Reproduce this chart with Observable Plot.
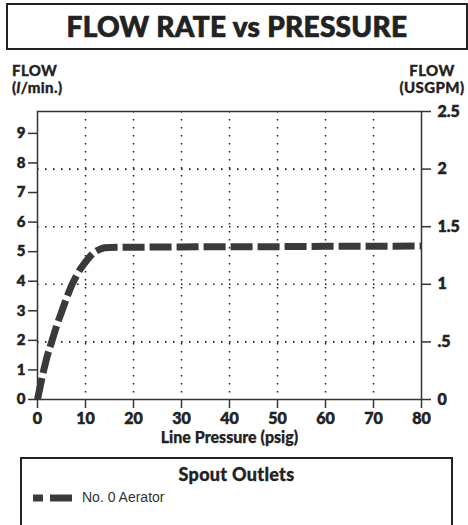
<!DOCTYPE html>
<html>
<head>
<meta charset="utf-8">
<script src="https://cdn.jsdelivr.net/npm/d3@7"></script>
<script src="https://cdn.jsdelivr.net/npm/@observablehq/plot@0.6"></script>
<style>
  html, body { margin: 0; padding: 0; background: #fff; }
  body { width: 468px; height: 525px; position: relative; overflow: hidden; font-family: "Lato Black", Lato, "DejaVu Sans", sans-serif; color: #222; }
  .abs { position: absolute; white-space: nowrap; }
  .heavy { font-weight: 900; -webkit-text-stroke: 0.3px #222; }
  #titlebox { left: 6px; top: 3px; width: 458px; height: 43px; border: 2px solid #222; }
  #title { left: 6px; top: 3px; width: 462px; height: 47px; line-height: 47px; text-align: center; font-size: 28px; letter-spacing: 0.3px; -webkit-text-stroke: 0.7px #222; }
  .hdr { font-size: 15px; line-height: 17px; letter-spacing: 0.4px; }
  #plot { left: 0; top: 0; }
  #legend { left: 20px; top: 457px; width: 429px; height: 80px; border: 2px solid #222; }
  #legtitle { left: 20px; top: 463px; width: 433px; text-align: center; font-size: 18px; letter-spacing: 0.3px; }
  #legtext { left: 82px; top: 489px; font-family: "Liberation Sans", Arial, sans-serif; font-size: 14px; color: #333; }
</style>
</head>
<body>
<div id="plot" class="abs"></div>
<div id="titlebox" class="abs"></div>
<div id="title" class="abs heavy">FLOW RATE vs PRESSURE</div>
<div class="abs hdr heavy" style="left:12px; top:62px;">FLOW</div>
<div class="abs hdr heavy" style="left:12px; top:79px;">(<i>l</i>/min.)</div>
<div class="abs hdr heavy" style="left:396px; width:72px; text-align:center; top:62px;">FLOW</div>
<div class="abs hdr heavy" style="left:396px; width:72px; text-align:center; top:79px;">(USGPM)</div>
<div id="legend" class="abs"></div>
<div id="legtitle" class="abs heavy">Spout Outlets</div>
<svg class="abs" style="left:0;top:0" width="468" height="525" id="legsvg"></svg>
<div id="legtext" class="abs">No. 0 Aerator</div>
<script>
// ---- data ----
const pressure = [0, 1, 2, 3, 4, 5, 6, 7, 8, 9, 10, 11, 12, 13, 14, 15, 20, 30, 40, 50, 60, 70, 80];
const flowLpm  = [0, 0.78, 1.45, 1.97, 2.5, 2.95, 3.4, 3.82, 4.15, 4.43, 4.65, 4.85, 5.0, 5.08, 5.13, 5.14, 5.15, 5.16, 5.17, 5.17, 5.18, 5.18, 5.19];
const xTicks = [0, 10, 20, 30, 40, 50, 60, 70, 80];
const lpmTicks = [0, 1, 2, 3, 4, 5, 6, 7, 8, 9];
const usgpmTicks = [0, 0.5, 1, 1.5, 2, 2.5];
const usgpmLabels = ["0", ".5", "1", "1.5", "2", "2.5"];
const seriesName = "No. 0 Aerator";

const yMax = 9.74;               // left axis top (l/min)
const k = yMax / 2.5;            // l/min per right-axis unit as drawn
const data = pressure.map((p, i) => ({p, f: flowLpm[i]}));

const lineColor = "#3a3a3a";
const dash = "22,5";
const ff = "'Lato Black', Lato, sans-serif";

const chart = Plot.plot({
  width: 468,
  height: 460,
  marginLeft: 37,
  marginRight: 47,
  marginTop: 111,
  marginBottom: 61,
  style: {fontFamily: ff, color: "#222", background: "transparent", overflow: "visible"},
  x: {domain: [0, 80]},
  y: {domain: [0, yMax]},
  marks: [
    Plot.ruleX(xTicks.filter(d => d > 0 && d < 80), {stroke: "#222", strokeWidth: 1.6, strokeDasharray: "1.6,6.4"}),
    Plot.ruleY(usgpmTicks.filter(d => d > 0 && d < 2.5).map(d => d * k), {stroke: "#222", strokeWidth: 1.6, strokeDasharray: "1.6,6.4"}),
    Plot.frame({stroke: "#333", strokeWidth: 1.5}),
    Plot.axisY(lpmTicks, {anchor: "left", tickSize: 9, tickPadding: 3, fontSize: 15, fontWeight: 900, stroke: "#333", strokeWidth: 1.5, label: null, tickFormat: d => String(d)}),
    Plot.axisY(usgpmTicks.map(d => d * k), {anchor: "right", tickSize: 9, tickPadding: 7, fontSize: 16, fontWeight: 900, stroke: "#333", strokeWidth: 1.5, label: null,
      tickFormat: d => usgpmLabels[usgpmTicks.indexOf(Math.round(d / k * 10) / 10)]}),
    Plot.axisX(xTicks, {anchor: "bottom", tickSize: 9, tickPadding: 4, fontSize: 16, fontWeight: 900, stroke: "#333", strokeWidth: 1.5, label: null, tickFormat: d => String(d)}),
    Plot.text(["Line Pressure (psig)"], {frameAnchor: "bottom", dy: 43, lineAnchor: "bottom", fontSize: 16, fontWeight: 900, fill: "#222", stroke: "#222", strokeWidth: 0.25}),
    Plot.line(data, {x: "p", y: "f", stroke: lineColor, strokeWidth: 7, strokeDasharray: dash, strokeLinecap: "butt", curve: "monotone-x"})
  ]
});
// thicken tick label text to mimic the heavy humanist face
d3.select(chart).selectAll("g[aria-label='y-axis tick label'], g[aria-label='x-axis tick label']")
  .attr("stroke", "#222").attr("stroke-width", 0.5);
document.getElementById("plot").appendChild(chart);

// legend swatch
const svg = d3.select("#legsvg");
svg.append("line").attr("x1", 33).attr("x2", 72).attr("y1", 498).attr("y2", 498)
  .attr("stroke", lineColor).attr("stroke-width", 7).attr("stroke-dasharray", "10,7,22");
document.getElementById("legtext").textContent = seriesName;
</script>
</body>
</html>
